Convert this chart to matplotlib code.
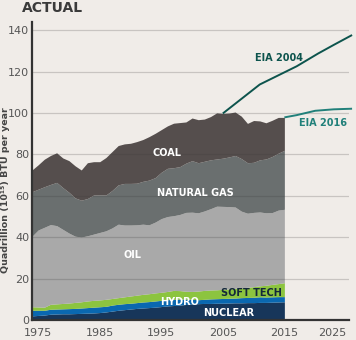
import numpy as np
import matplotlib
matplotlib.use("Agg")
import matplotlib.pyplot as plt

plt.rcParams['font.family'] = ['Liberation Sans Narrow', 'DejaVu Sans']

# US primary energy use, stacked boundaries (quads)
years = list(range(1974, 2016))
nuclear_top = [2.0, 2.2, 2.4, 2.8, 2.9, 3.0, 3.0, 3.1, 3.2, 3.3,
               3.4, 3.6, 3.9, 4.3, 4.7, 5.0, 5.3, 5.6, 5.8, 6.0,
               6.2, 6.5, 6.8, 7.0, 7.2, 7.5, 7.8, 7.9, 8.0, 8.0,
               8.1, 8.1, 8.2, 8.3, 8.3, 8.4, 8.4, 8.5, 8.5, 8.6,
               8.7, 8.8]
hydro_top = [4.7, 4.7, 4.7, 5.2, 5.3, 5.4, 5.5, 5.6, 5.8, 6.0,
             6.2, 6.4, 6.6, 7.2, 7.6, 7.9, 8.1, 8.4, 8.7, 8.9,
             9.2, 9.5, 9.8, 10.0, 10.1, 10.1, 10.0, 9.8, 10.0, 10.2,
             10.3, 10.4, 10.5, 10.6, 10.8, 10.9, 11.0, 11.2, 11.1, 11.2,
             11.3, 11.3]
soft_top = [6.4, 6.3, 6.2, 7.6, 7.8, 8.0, 8.2, 8.5, 8.8, 9.2,
            9.5, 9.7, 10.0, 10.4, 10.8, 11.2, 11.6, 12.0, 12.4, 12.7,
            13.1, 13.4, 13.8, 14.3, 14.2, 13.9, 13.8, 14.0, 14.3, 14.5,
            14.6, 14.8, 15.0, 15.3, 15.5, 15.8, 16.1, 16.5, 16.8, 17.2,
            17.6, 18.0]
oil_top = [40.5, 43.5, 44.8, 46.1, 45.6, 43.8, 42.0, 40.5, 40.1, 40.7,
           41.5, 42.3, 43.1, 44.5, 46.3, 45.9, 45.9, 46.0, 46.3, 46.0,
           47.3, 49.0, 50.0, 50.4, 51.0, 52.0, 52.1, 51.8, 52.7, 53.8,
           55.0, 54.9, 54.8, 54.6, 52.6, 51.6, 52.0, 52.2, 51.8, 51.9,
           53.1, 53.5]
gas_top = [62.0, 63.2, 64.4, 65.5, 66.5, 64.0, 61.7, 59.0, 57.9, 58.7,
           60.4, 60.5, 60.4, 62.6, 65.3, 66.0, 66.0, 66.1, 67.0, 67.6,
           68.8, 71.4, 73.3, 73.6, 74.1, 75.8, 77.0, 76.0, 76.7, 77.4,
           77.8, 78.2, 78.8, 79.5, 78.0, 76.0, 76.2, 77.4, 77.8, 79.0,
           80.6, 82.0]
total = [72.5, 75.0, 77.7, 79.5, 80.8, 78.3, 77.0, 74.5, 72.5, 76.0,
         76.5, 76.5, 78.5, 81.4, 84.3, 85.1, 85.4, 86.2, 87.2, 88.6,
         90.2, 92.0, 93.8, 95.1, 95.4, 95.7, 97.6, 96.8, 97.1, 98.3,
         100.1, 99.8, 100.0, 100.5, 98.5, 95.0, 96.4, 96.2, 95.3, 96.5,
         97.9, 97.9]

# EIA forecasts
eia2004_years = [2005, 2011, 2017, 2020.5, 2023, 2026]
eia2004_vals = [99.8, 113.8, 122.6, 128.8, 132.9, 137.7]
eia2016_years = [2015, 2017, 2020, 2023, 2026]
eia2016_vals = [97.9, 99.0, 101.1, 101.8, 102.1]

bg = '#f0ece8'
layers = [
    (np.zeros(len(years)), nuclear_top, '#17365a'),
    (nuclear_top, hydro_top, '#0a68b0'),
    (hydro_top, soft_top, '#8cc43f'),
    (soft_top, oil_top, '#a9a9a9'),
    (oil_top, gas_top, '#6a6f6f'),
    (gas_top, total, '#554e4d'),
]

fig = plt.figure(figsize=(3.56, 3.40), dpi=100, facecolor=bg)
ax = fig.add_axes([32 / 356, 20 / 340, 317 / 356, 298 / 340])
ax.set_facecolor(bg)

for lo, hi, c in layers:
    ax.fill_between(years, lo, hi, color=c, lw=0, zorder=2)

for yv in range(20, 141, 20):
    ax.axhline(yv, color='#3a3a3a', alpha=0.22, lw=0.9, zorder=3)

ax.plot(eia2004_years, eia2004_vals, color='#0d544d', lw=1.4, zorder=4,
        clip_on=False, solid_capstyle='butt')
ax.plot(eia2016_years, eia2016_vals, color='#21807a', lw=1.4, zorder=4,
        clip_on=False, solid_capstyle='butt')

ax.set_xlim(1974, 2025.5)
ax.set_ylim(0, 144)
ax.set_xticks([1975, 1985, 1995, 2005, 2015, 2025])
ax.set_yticks(range(0, 141, 20))
ax.tick_params(length=0, labelsize=8, labelcolor='#555555')
ax.tick_params(axis='x', pad=6)
ax.tick_params(axis='y', pad=2)
ax.get_xticklabels()[-1].set_horizontalalignment('right')

for s in ['top', 'right']:
    ax.spines[s].set_visible(False)
for s in ['left', 'bottom']:
    ax.spines[s].set_color('#333333')
    ax.spines[s].set_linewidth(1.6)
    ax.spines[s].set_zorder(5)

fig.text(5.5 / 356, 1 - 190 / 340, 'Quadrillion (10¹⁵) BTU per year',
         fontsize=6.8, fontweight='bold', color='#444444', rotation=90,
         ha='center', va='center')

lab = dict(fontweight='bold', fontsize=7, ha='center', va='center', zorder=6)
ax.text(1996.0, 80.5, 'COAL', color='white', **lab)
ax.text(2000.5, 61.5, 'NATURAL GAS', color='white', **lab)
ax.text(1990.3, 31.5, 'OIL', color='white', **lab)
ax.text(1998.0, 8.5, 'HYDRO', color='white', **lab)
ax.text(2009.6, 13.0, 'SOFT TECH', color='#14283a', **lab)
ax.text(2006.0, 3.5, 'NUCLEAR', color='white', **lab)
ax.text(2014.2, 126.5, 'EIA 2004', color='#0d544d', **lab)
ax.text(2021.2, 95.0, 'EIA 2016', color='#21807a', **lab)

fig.text(22 / 356, 1 - 8 / 340, 'ACTUAL', fontsize=10, fontweight='bold',
         color='#3a3a3a', ha='left', va='center')

fig.savefig('out.png', dpi=100, facecolor=bg)
